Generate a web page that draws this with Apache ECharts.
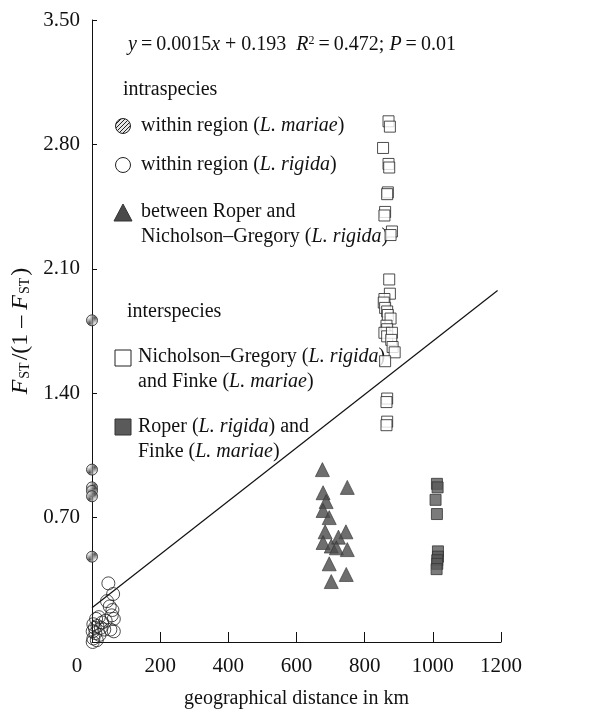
<!DOCTYPE html>
<html>
<head>
<meta charset="utf-8">
<script src="https://cdn.jsdelivr.net/npm/echarts@6/dist/echarts.min.js"></script>
<style>html,body{margin:0;padding:0;background:#fff}#c{width:608px;height:715px}</style>
</head>
<body>
<div id="c"></div>
<script>
// ---- data ----
var xTicks = [0, 200, 400, 600, 800, 1000, 1200];
var yTicks = [0.70, 1.40, 2.10, 2.80, 3.50];
var slope = 0.0015, intercept = 0.193;

var mariaeX = [0, 0, 0, 0, 0, 0];
var mariaeY = [1.81, 0.97, 0.87, 0.85, 0.82, 0.48];

var rigidaX = [48, 62, 44, 52, 60, 58, 64, 40, 12, 4, 16, 26, 36, 54, 64, 2, 10, 22, 4, 14, 2, 30, 20, 8];
var rigidaY = [0.33, 0.27, 0.23, 0.20, 0.18, 0.15, 0.13, 0.12, 0.13, 0.10, 0.09, 0.08, 0.07, 0.07, 0.06, 0.06, 0.05, 0.04, 0.02, 0.01, 0.00, 0.11, 0.14, 0.08];

var betweenX = [676, 678, 749, 687, 678, 696, 745, 684, 723, 678, 702, 717, 749, 696, 746, 702];
var betweenY = [0.97, 0.84, 0.87, 0.79, 0.74, 0.70, 0.62, 0.62, 0.59, 0.56, 0.54, 0.53, 0.52, 0.44, 0.38, 0.34];

var ngFinkeX = [870, 874, 854, 870, 872, 868, 866, 860, 858, 880, 876, 872, 874, 858, 856, 860, 866, 868, 876, 864, 866, 858, 866, 880, 878, 882, 888, 860, 866, 864, 866, 864];
var ngFinkeY = [2.93, 2.90, 2.78, 2.69, 2.67, 2.53, 2.52, 2.42, 2.40, 2.31, 2.29, 2.04, 1.96, 1.93, 1.91, 1.88, 1.86, 1.84, 1.82, 1.78, 1.76, 1.74, 1.72, 1.74, 1.70, 1.66, 1.63, 1.58, 1.37, 1.35, 1.24, 1.22];

var roperFinkeX = [1012, 1014, 1008, 1012, 1015, 1015, 1013, 1013, 1011];
var roperFinkeY = [0.89, 0.87, 0.80, 0.72, 0.51, 0.48, 0.46, 0.44, 0.41];

var lineX = [0, 1190];

// ---- helpers ----
function zip(xs, ys) { return xs.map(function (x, i) { return [x, ys[i]]; }); }
function hatchCanvas() {
  var c = document.createElement('canvas'); c.width = 4; c.height = 4;
  var g = c.getContext('2d');
  g.fillStyle = '#e6e6e6'; g.fillRect(0, 0, 4, 4);
  g.strokeStyle = '#222'; g.lineWidth = 1;
  g.beginPath();
  g.moveTo(0, 4); g.lineTo(4, 0);
  g.moveTo(-1, 1); g.lineTo(1, -1);
  g.moveTo(3, 5); g.lineTo(5, 3);
  g.stroke();
  return c;
}
var hatch = { image: hatchCanvas(), repeat: 'repeat' };
var SERIF = '"Liberation Serif", "DejaVu Serif", serif';
var FS = 20;
var richBase = {
  n: { fontFamily: SERIF, fontSize: FS, fill: '#111' },
  i: { fontFamily: SERIF, fontSize: FS, fontStyle: 'italic', fill: '#111' }
};

var chart = echarts.init(document.getElementById('c'), null, { renderer: 'canvas' });

var legendX = 123, textX = 141;
function legendText(x, y, text) {
  return { type: 'text', x: x, y: y, style: { text: text, rich: richBase, font: FS + 'px ' + SERIF, fill: '#111', verticalAlign: 'middle', align: 'left' } };
}

var graphics = [
  { type: 'text', x: 128, y: 45, style: {
      text: '{i|y}{n|\u2009=\u20090.0015}{i|x}{n| + 0.193  }{i|R}{sup|2}{n|\u2009=\u20090.472; }{i|P}{n|\u2009=\u20090.01}',
      rich: { n: richBase.n, i: richBase.i, sup: { fontFamily: SERIF, fontSize: 12, fill: '#111', verticalAlign: 'top', padding: [0, 0, 8, 0] } },
      verticalAlign: 'middle', align: 'left' } },
  legendText(123, 90, '{n|intraspecies}'),
  { type: 'circle', shape: { cx: legendX, cy: 126, r: 7.5 }, style: { fill: hatch, stroke: '#222', lineWidth: 1 } },
  legendText(textX, 126, '{n|within region (}{i|L. mariae}{n|)}'),
  { type: 'circle', shape: { cx: legendX, cy: 165, r: 7.5 }, style: { fill: '#fff', stroke: '#222', lineWidth: 1 } },
  legendText(textX, 165, '{n|within region (}{i|L. rigida}{n|)}'),
  { type: 'polygon', shape: { points: [[legendX - 9, 221], [legendX + 9, 221], [legendX, 204]] }, style: { fill: '#4a4a4a', stroke: '#333', lineWidth: 1 } },
  legendText(textX, 212, '{n|between Roper and}'),
  legendText(textX, 237, '{n|Nicholson\u2013Gregory (}{i|L. rigida}{n|)}'),
  legendText(127, 312, '{n|interspecies}'),
  { type: 'rect', shape: { x: legendX - 8, y: 350, width: 16, height: 16 }, style: { fill: '#fff', stroke: '#222', lineWidth: 1 } },
  legendText(138, 357, '{n|Nicholson\u2013Gregory (}{i|L. rigida}{n|)}'),
  legendText(138, 382, '{n|and Finke (}{i|L. mariae}{n|)}'),
  { type: 'rect', shape: { x: legendX - 8, y: 419, width: 16, height: 16 }, style: { fill: '#5a5a5a', stroke: '#333', lineWidth: 1 } },
  legendText(138, 427, '{n|Roper (}{i|L. rigida}{n|) and}'),
  legendText(138, 452, '{n|Finke (}{i|L. mariae}{n|)}')
];

var option = {
  backgroundColor: '#fff',
  animation: false,
  grid: { left: 92, right: 107, top: 20, bottom: 73, containLabel: false },
  xAxis: {
    type: 'value', min: 0, max: 1200, interval: 200,
    name: 'geographical distance in km', nameLocation: 'middle', nameGap: 47,
    nameTextStyle: { fontFamily: SERIF, fontSize: 20, color: '#111' },
    axisLine: { show: true, lineStyle: { color: '#111', width: 1 } },
    axisTick: { show: true, inside: true, length: 10, lineStyle: { color: '#111' } },
    splitLine: { show: false },
    axisLabel: {
      margin: 14, fontFamily: SERIF, fontSize: 21, color: '#111',
      formatter: function (v) { return v === 0 ? '{z|0}' : String(v); },
      rich: { z: { fontFamily: SERIF, fontSize: 21, color: '#111', padding: [0, 30, 0, 0] } }
    }
  },
  yAxis: {
    type: 'value', min: 0, max: 3.5, interval: 0.7,
    name: '{i|F}{s|ST}{n|/(1 \u2013 }{i|F}{s|ST}{n|)}', nameLocation: 'middle', nameGap: 56,
    nameTextStyle: {
      fontFamily: SERIF, fontSize: 24, color: '#111',
      rich: {
        i: { fontFamily: SERIF, fontSize: 24, fontStyle: 'italic', color: '#111' },
        n: { fontFamily: SERIF, fontSize: 24, color: '#111' },
        s: { fontFamily: SERIF, fontSize: 14, color: '#111', verticalAlign: 'bottom', padding: [9, 2, 0, 1] }
      }
    },
    axisLine: { show: true, lineStyle: { color: '#111', width: 1 } },
    axisTick: { show: true, inside: true, length: 5, lineStyle: { color: '#111' } },
    splitLine: { show: false },
    axisLabel: {
      margin: 12, fontFamily: SERIF, fontSize: 21, color: '#111',
      formatter: function (v) { return v === 0 ? '' : v.toFixed(2); }
    }
  },
  series: [
    { name: 'regression', type: 'line', data: lineX.map(function (x) { return [x, intercept + slope * x]; }),
      symbol: 'none', lineStyle: { color: '#111', width: 1.2 }, z: 1 },
    { name: 'within region (L. rigida)', type: 'scatter', data: zip(rigidaX, rigidaY), symbol: 'circle', symbolSize: 13,
      itemStyle: { color: 'rgba(255,255,255,0)', borderColor: '#222', borderWidth: 1 } },
    { name: 'within region (L. mariae)', type: 'scatter', data: zip(mariaeX, mariaeY), symbol: 'circle', symbolSize: 11,
      itemStyle: { color: hatch, borderColor: '#222', borderWidth: 1 } },
    { name: 'between Roper and Nicholson-Gregory', type: 'scatter', data: zip(betweenX, betweenY), symbol: 'triangle', symbolSize: 14,
      itemStyle: { color: '#4a4a4a', borderColor: '#333', borderWidth: 0.8 } },
    { name: 'Nicholson-Gregory and Finke', type: 'scatter', data: zip(ngFinkeX, ngFinkeY), symbol: 'rect', symbolSize: 11,
      itemStyle: { color: '#fff', borderColor: '#222', borderWidth: 1 } },
    { name: 'Roper and Finke', type: 'scatter', data: zip(roperFinkeX, roperFinkeY), symbol: 'rect', symbolSize: 11,
      itemStyle: { color: '#5a5a5a', borderColor: '#333', borderWidth: 1 } }
  ],
  graphic: graphics
};
chart.setOption(option);
</script>
</body>
</html>
